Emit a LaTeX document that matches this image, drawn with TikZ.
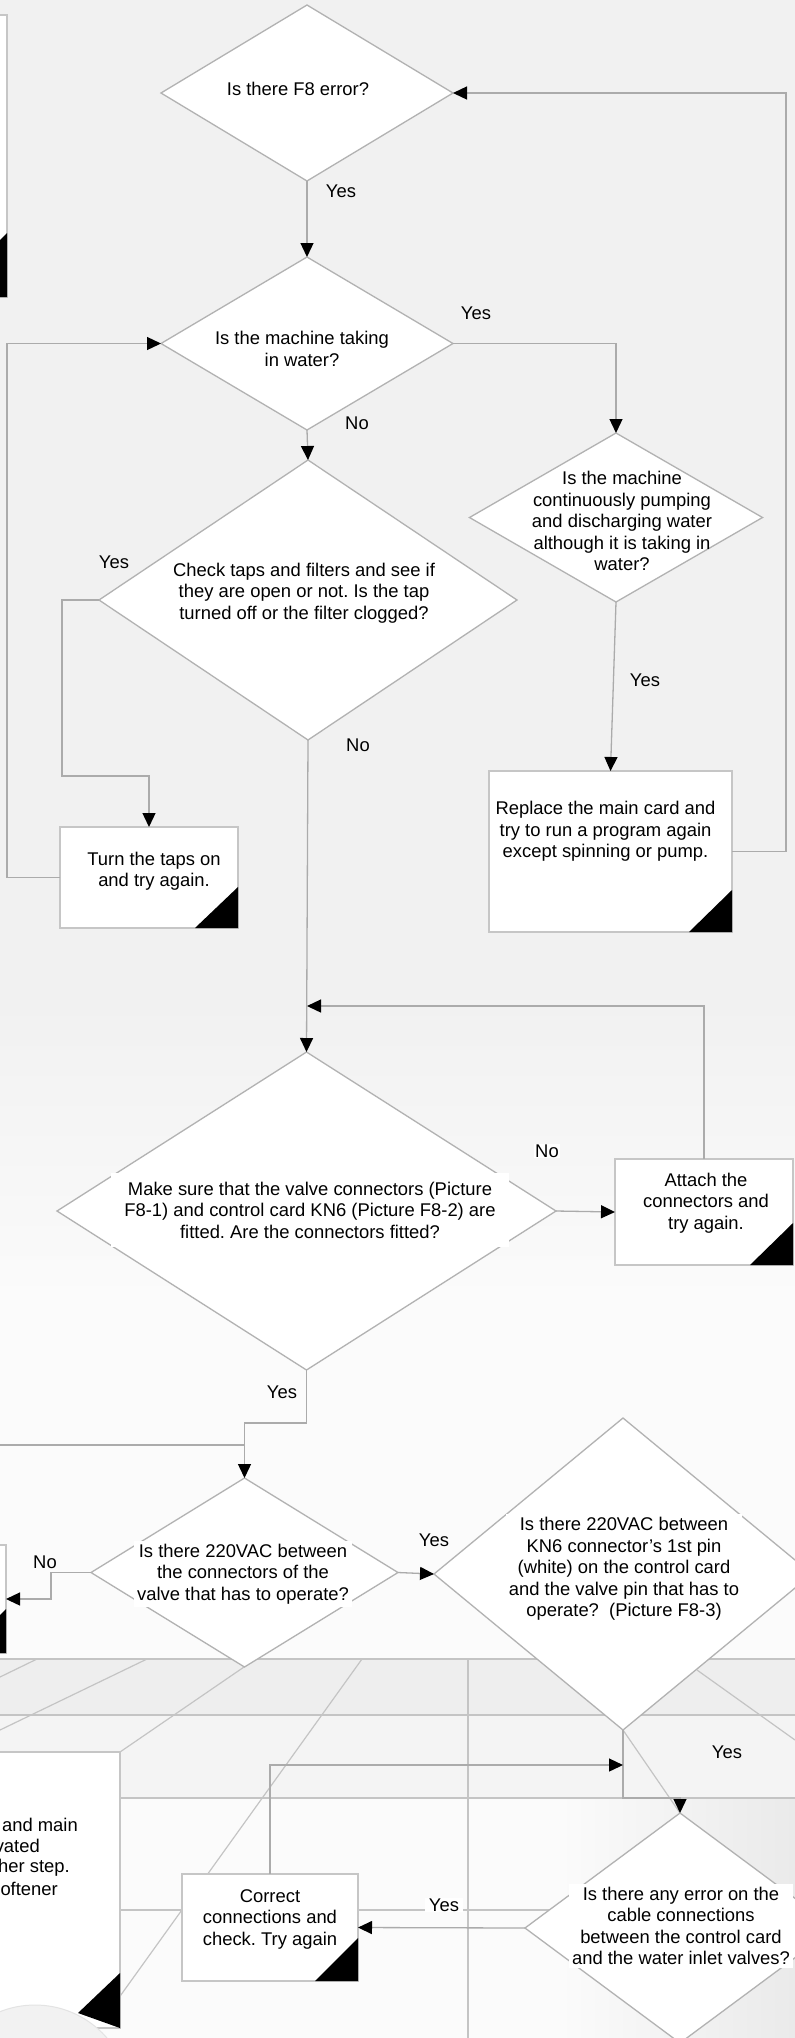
\documentclass[tikz,border=0pt]{standalone}
\usepackage{fontspec}
\setmainfont{Liberation Sans}
\usetikzlibrary{arrows.meta,shapes.geometric}
\definecolor{bgtop}{HTML}{F1F1F1}
\definecolor{bgmid}{HTML}{FBFBFB}
\definecolor{bandA}{HTML}{EEEEEE}
\definecolor{bandB}{HTML}{F4F4F4}
\definecolor{bgright}{HTML}{EAEAEA}
\definecolor{lncol}{HTML}{ABABAB}
\definecolor{dcol}{HTML}{B2B2B2}
\definecolor{gridcol}{HTML}{C4C4C4}
\definecolor{boxcol}{HTML}{C6C6C6}
\frenchspacing
\begin{document}
\begin{tikzpicture}[x=1pt,y=-1pt,
  font=\fontsize{18.4}{21.5}\selectfont,
  dia/.style={diamond, draw=dcol, line width=1.3pt, fill=white, inner sep=0pt, outer sep=0pt},
  box/.style={rectangle, draw=boxcol, line width=1.5pt, fill=white, inner sep=0pt, outer sep=0pt},
  txt/.style={align=center, inner sep=3pt, fill=white},
  btxt/.style={align=center, inner sep=0pt},
  lbl/.style={inner sep=1pt},
  conn/.style={draw=lncol, line width=1.3pt},
  arr/.style={conn, -{Triangle[length=14pt,width=13pt,color=black]}},
  grid/.style={draw=gridcol, line width=1.2pt},
  corner/.style={fill=black}
]
\useasboundingbox (0,0) rectangle (795,2038);
\clip (0,0) rectangle (795,2038);
% background
\fill[bgtop] (0,0) rectangle (795,1000);
\shade[top color=bgtop, bottom color=bgmid] (0,1000) rectangle (795,1300);
\fill[bgmid] (0,1300) rectangle (795,2038);
\fill[bandA] (0,1659) rectangle (795,1715);
\fill[bandB] (0,1715) rectangle (795,1798);
\shade[left color=bgmid, right color=bgright] (560,1798) rectangle (795,2038);
% floor lines
\draw[grid] (0,1659) -- (795,1659);
\draw[grid] (0,1715) -- (795,1715);
\draw[grid] (120,1798) -- (795,1798);
\draw[grid] (120,1910) -- (795,1910);
\draw[grid] (37,1659) -- (0,1677);
\draw[grid] (147,1659) -- (0,1730);
\draw[grid] (244,1667) -- (120,1752);
\draw[grid] (362,1659) -- (90,2038);
\draw[grid] (468,1659) -- (468,2038);
\draw[grid] (697,1670) -- (795,1740);
\draw[grid] (623,1730) -- (680,1813);

% partial boxes at the left edge
\node[box, minimum width=120pt, minimum height=282pt, anchor=north east] (lb1) at (7,15) {};
\fill[corner] (lb1.south east) -- ++(-64,0) -- ++(64,-64) -- cycle;
\node[box, minimum width=120pt, minimum height=108pt, anchor=north east] (lb2) at (6,1545) {};
\fill[corner] (lb2.south east) -- ++(-44,0) -- ++(44,-44) -- cycle;
\node[box, minimum width=300pt, minimum height=276pt, anchor=north east] (lb3) at (120,1752) {};
\fill[gray!10, draw=gray!22, line width=1pt] (35,2100) circle (95);
\fill[corner] (lb3.south east) -- ++(0,-55) -- (78,2013) -- cycle;
\node[anchor=east, inner sep=0pt] (lb3a) at (78,1825) {and main};
\node[anchor=east, inner sep=0pt] (lb3b) at (40,1846) {vated};
\node[anchor=east, inner sep=0pt] (lb3c) at (70,1868) {her step.};
\node[anchor=east, inner sep=0pt] (lb3d) at (58,1889) {oftener};

% shapes
\node[dia, minimum width=292pt, minimum height=176pt] (f8) at (307,93) {};
\node[dia, minimum width=292pt, minimum height=173pt] (mach) at (307,343.5) {};
\node[dia, minimum width=418pt, minimum height=280pt] (chk) at (308,600) {};
\node[dia, minimum width=293pt, minimum height=169pt] (cont) at (616,517.5) {};
\node[box, minimum width=178pt, minimum height=101pt] (turn) at (149,877.5) {};
\fill[corner] (turn.south east) -- ++(-43,0) -- ++(43,-41) -- cycle;
\node[box, minimum width=243pt, minimum height=161pt] (repl) at (610.5,851.5) {};
\fill[corner] (repl.south east) -- ++(-43,0) -- ++(43,-42) -- cycle;
\node[dia, minimum width=499pt, minimum height=318pt] (make) at (306.5,1211) {};
\node[box, minimum width=178pt, minimum height=106pt] (att) at (704,1212) {};
\fill[corner] (att.south east) -- ++(-43,0) -- ++(43,-42) -- cycle;
\node[dia, minimum width=307pt, minimum height=189pt] (vac) at (244.5,1572.5) {};
\node[dia, minimum width=378pt, minimum height=312pt] (kn) at (623,1574) {};
\node[dia, minimum width=310pt, minimum height=230pt] (err) at (680,1928) {};
\node[box, minimum width=176pt, minimum height=107pt] (corr) at (270,1927.5) {};
\fill[corner] (corr.south east) -- ++(-43,0) -- ++(43,-43) -- cycle;

% connectors
\coordinate (j1) at (307,1006);
\coordinate (j2) at (623,1765);
\coordinate (lin) at (0,1445);
\draw[arr] (f8.south) -- (mach.north);
\draw[arr] (mach.east) -| (cont.north);
\draw[arr] (mach.south) -- (chk.north);
\draw[arr] (chk.west) -- ++(-37,0) -- ++(0,176) -| (turn.north);
\draw[arr] (turn.west) -- ++(-53,0) |- (mach.west);
\draw[arr] (cont.south) -- (repl.north);
\draw[arr] (repl.east) -- ++(54,0) |- (f8.east);
\draw[arr] (chk.south) -- (make.north);
\draw[arr] (att.north) |- (j1);
\draw[arr] (make.east) -- (att.west);
\draw[arr] (make.south) -- ++(0,53) -| (vac.north);
\draw[conn] (lin) -- (vac.north |- lin);
\draw[arr] (vac.west) -- ++(-40,0) |- (lb2.east);
\draw[arr] (vac.east) -- (kn.west);
\draw[arr] (kn.south) -- ++(0,68) -| (err.north);
\draw[arr] (corr.north) |- (j2);
\draw[arr] (err.west) -- (corr.east);

% texts
\node[txt] (f8t) at (298,89) {Is there F8 error?};
\node[txt] (macht) at (302,349) {Is the machine taking\\in water?};
\node[txt] (chkt) at (304,593) {Check taps and filters and see if\\they are open or not. Is the tap\\turned off or the filter clogged?};
\node[btxt] (contt) at (622,521) {Is the machine\\continuously pumping\\and discharging water\\although it is taking in\\water?};
\node[btxt] (turnt) at (154,871) {Turn the taps on\\and try again.};
\node[btxt] (replt) at (605.5,831.5) {Replace the main card and\\try to run a program again\\except spinning or pump.};
\node[txt, inner xsep=13pt, inner ysep=9pt] (maket) at (310,1210) {Make sure that the valve connectors (Picture\\F8-1) and control card KN6 (Picture F8-2) are\\fitted. Are the connectors fitted?};
\node[btxt] (attt) at (706,1203) {Attach the\\connectors and\\try again.};
\node[txt] (vact) at (243,1574) {Is there 220VAC between\\the connectors of the\\valve that has to operate?};
\node[txt] (knt) at (624,1569) {Is there 220VAC between\\KN6 connector's 1st pin\\(white) on the control card\\and the valve pin that has to\\operate?\ \ (Picture F8-3)};
\node[txt] (errt) at (681,1926) {Is there any error on the\\cable connections\\between the control card\\and the water inlet valves?};
\node[btxt] (corrt) at (270,1919) {Correct\\connections and\\check. Try again};

% labels
\node[lbl] (l1) at (341,191) {Yes};
\node[lbl] (l2) at (476,313) {Yes};
\node[lbl] (l3) at (357,423) {No};
\node[lbl] (l4) at (114,562) {Yes};
\node[lbl] (l5) at (358,745) {No};
\node[lbl] (l6) at (645,680) {Yes};
\node[lbl, fill=white] (l7) at (547,1151) {No};
\node[lbl] (l8) at (282,1392) {Yes};
\node[lbl] (l9) at (45,1562) {No};
\node[lbl] (l10) at (434,1540) {Yes};
\node[lbl] (l11) at (727,1752) {Yes};
\node[lbl, fill=white, inner xsep=4pt] (l12) at (444,1905) {Yes};
\end{tikzpicture}
\end{document}
